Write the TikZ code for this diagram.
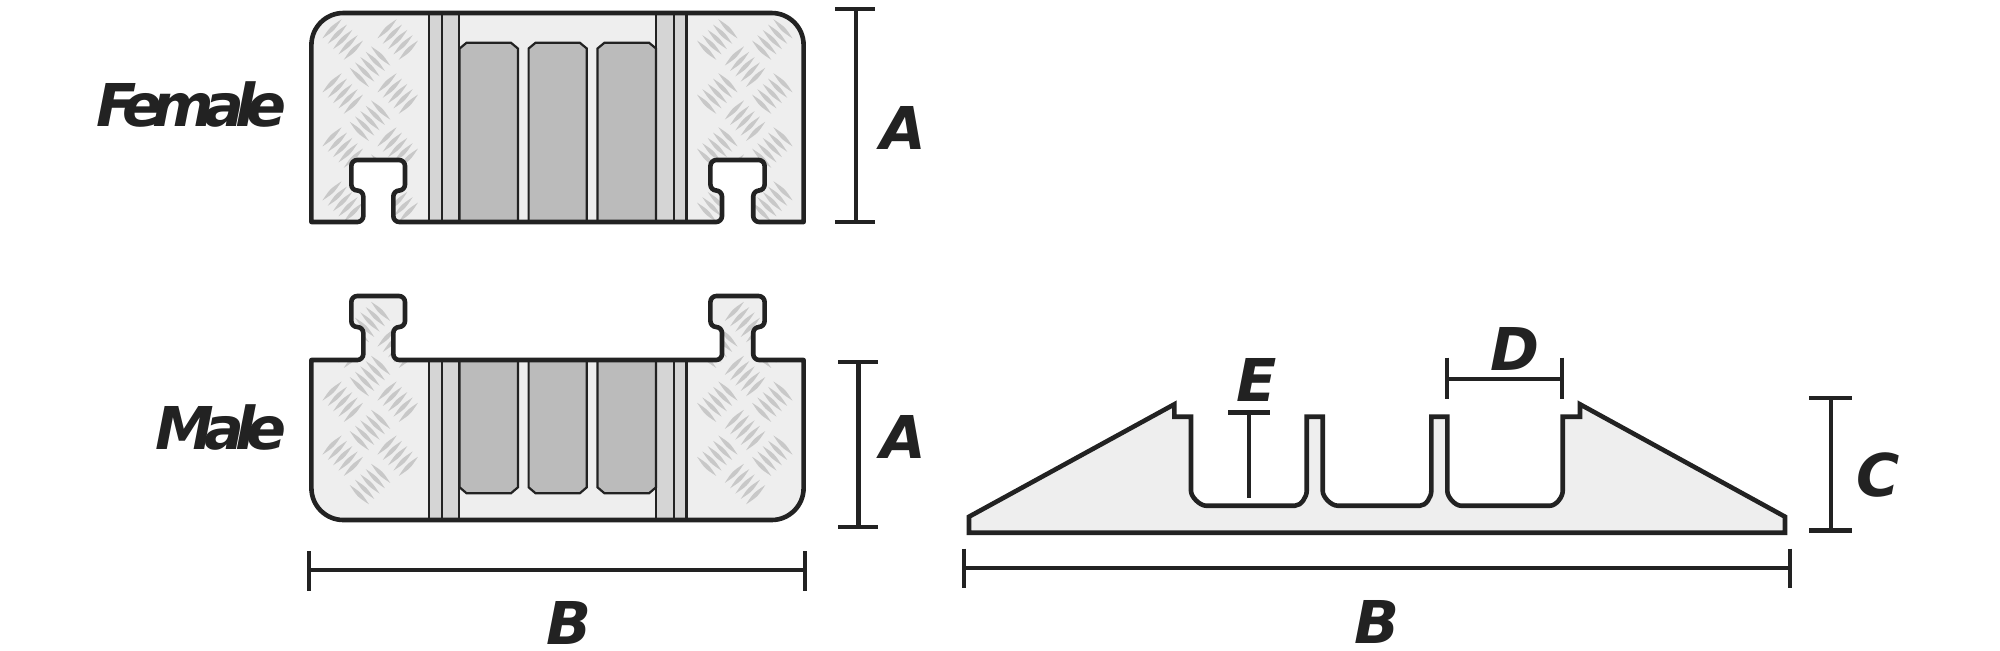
\documentclass[tikz,border=0pt]{standalone}
\usepackage{fontspec}
\setmainfont{DejaVu Sans}
\definecolor{ink}{HTML}{222222}
\definecolor{bodyfill}{HTML}{EEEEEE}
\definecolor{barfill}{HTML}{D5D5D5}
\definecolor{chanfill}{HTML}{BBBBBB}
\definecolor{leaffill}{HTML}{C8C8C8}
\tikzset{
  outline/.style={draw=ink,line width=2.3pt,line join=round},
  thinline/.style={draw=ink,line width=1.1pt},
  dimline/.style={draw=ink,line width=2.2pt},
  bigletter/.style={inner sep=0pt,text=ink,font=\bfseries\itshape\fontsize{29.5}{29.5}\selectfont},
  wordlabel/.style={inner sep=0pt,text=ink,anchor=base east,font=\bfseries\itshape\fontsize{29.5}{29.5}\selectfont\addfontfeature{LetterSpace=-16}},
}
% one diamond-plate group: centre x, centre y, sign of slant
\newcommand\leafgroup[3]{%
  \foreach \i in {-2,...,2}{%
    \pgfmathsetmacro\cx{#1+5.33*\i*#3}%
    \pgfmathsetmacro\cy{#2+5.33*\i}%
    \pgfmathsetmacro\ax{\cx-9.6}%
    \pgfmathsetmacro\ay{\cy+9.6*#3}%
    \pgfmathsetmacro\bx{\cx+9.6}%
    \pgfmathsetmacro\by{\cy-9.6*#3}%
    \pgfmathsetmacro\px{\cx+2*#3}%
    \pgfmathsetmacro\py{\cy+2}%
    \pgfmathsetmacro\qx{\cx-2*#3}%
    \pgfmathsetmacro\qy{\cy-2}%
    \fill[leaffill] (\ax,\ay) .. controls (\px,\py) .. (\bx,\by) .. controls (\qx,\qy) .. cycle;
  }%
}
\newcommand\leafpair[3]{%
  \pgfmathsetmacro\mirx{1115-#1}\pgfmathsetmacro\mirs{-1*#3}%
  \leafgroup{#1}{#2}{#3}\leafgroup{\mirx}{#2}{\mirs}}
\def\femalepath{(311.4,222) [rounded corners=16pt] -- (311.4,13) -- (803.6,13) [sharp corners] -- (803.6,222)
  [rounded corners=3pt] -- (753.2,222) -- (753.2,190.5) -- (764.6,190.5) -- (764.6,160) -- (710.4,160) -- (710.4,190.5) -- (722,190.5) -- (722,222)
  -- (393.3,222) -- (393.3,190.5) -- (405,190.5) -- (405,160) -- (351.3,160) -- (351.3,190.5) -- (363.3,190.5) -- (363.3,222) [sharp corners] -- cycle}
\def\malepath{(311.4,360) [rounded corners=3pt] -- (363.3,360) -- (363.3,327) -- (351.3,327) -- (351.3,296) -- (405,296) -- (405,327) -- (393.3,327) -- (393.3,360)
  -- (722,360) -- (722,327) -- (710.4,327) -- (710.4,296) -- (764.6,296) -- (764.6,327) -- (753.2,327) -- (753.2,360) [sharp corners] -- (803.6,360)
  [rounded corners=16pt] -- (803.6,520) -- (311.4,520) -- (311.4,440) [sharp corners] -- cycle}
\newcommand\barset[2]{%
  \fill[barfill] (428.6,#1) rectangle (459,#2);
  \fill[barfill] (656,#1) rectangle (686.4,#2);
  \foreach \bax in {428.6,441.8,459,656,673.6,686.4}{\draw[thinline] (\bax,#1) -- (\bax,#2);}%
}
\begin{document}
\begin{tikzpicture}[x=0.5pt,y=-0.5pt]
\useasboundingbox (0,0) rectangle (2000,650);
% Female
\fill[bodyfill] \femalepath;
\begin{scope}
  \clip \femalepath;
  \foreach \yy in {39.5,93.5,147.5,201.5}{\leafpair{342.7}{\yy}{1}\leafpair{397.7}{\yy}{1}}
  \foreach \yy in {66.7,120.7,174.7}{\leafpair{370}{\yy}{-1}}
\end{scope}
\barset{13}{222}
\foreach \lx/\rx in {459.6/517.9,528.6/586.8,597.5/656}{
  \filldraw[thinline,fill=chanfill] (\lx,222) -- (\lx,48.5) -- (\lx+7,42.7) -- (\rx-7,42.7) -- (\rx,48.5) -- (\rx,222);
}
\draw[outline] \femalepath;
% Male
\fill[bodyfill] \malepath;
\begin{scope}
  \clip \malepath;
  \foreach \yy in {347.7,401.7,455.7}{\leafpair{342.7}{\yy}{1}\leafpair{397.7}{\yy}{1}}
  \foreach \yy in {322,376,430,484}{\leafpair{370}{\yy}{-1}}
\end{scope}
\barset{360}{520}
\foreach \lx/\rx in {459.6/517.9,528.6/586.8,597.5/656}{
  \filldraw[thinline,fill=chanfill] (\lx,360) -- (\lx,487.3) -- (\lx+7,493.3) -- (\rx-7,493.3) -- (\rx,487.3) -- (\rx,360);
}
\draw[outline] \malepath;
% Ramp
\filldraw[outline,fill=bodyfill,line join=miter]
  (969,532.7) -- (969,516.7) -- (1174.3,404.3) -- (1174.3,416.7) -- (1191,416.7) -- (1191,491)
  .. controls (1191,497) and (1200,505.7) .. (1206,505.7) -- (1295,505.7)
  .. controls (1301,505.7) and (1306.7,497) .. (1306.7,491) -- (1306.7,416.7) -- (1322.7,416.7) -- (1322.7,491)
  .. controls (1322.7,497) and (1331,505.7) .. (1337.7,505.7) -- (1420,505.7)
  .. controls (1426,505.7) and (1431.3,497) .. (1431.3,491) -- (1431.3,416.7) -- (1447.3,416.7) -- (1447.3,491)
  .. controls (1447.3,497) and (1455,505.7) .. (1461,505.7) -- (1550,505.7)
  .. controls (1556,505.7) and (1562.7,497) .. (1562.7,491) -- (1562.7,416.7) -- (1580,416.7) -- (1580,404.3)
  -- (1785,516.7) -- (1785,532.7) -- cycle;
% Dimension lines
\draw[dimline] (835,9) -- (875,9) (856,9) -- (856,222) (835,222) -- (875,222);
\draw[dimline] (838,362) -- (877.5,362) (858.4,362) -- (858.4,527) (838,527) -- (877.5,527);
\draw[dimline] (308.7,551) -- (308.7,590.5) (308.7,570) -- (805,570) (805,551) -- (805,590.5);
\draw[dimline] (964,548.5) -- (964,588) (964,568) -- (1790,568) (1790,548.5) -- (1790,588);
\draw[dimline] (1228,412.3) -- (1270,412.3) (1249,412.3) -- (1249,497.7);
\draw[dimline] (1446.7,357.7) -- (1446.7,399.3) (1446.7,379) -- (1561.7,379) (1561.7,357.7) -- (1561.7,399.3);
\draw[dimline] (1809,398) -- (1851.7,398) (1830.7,398) -- (1830.7,530.3) (1809,530.3) -- (1851.7,530.3);
% Labels
\node[wordlabel] (female) at (286.5,126) {Female};
\node[wordlabel] (male) at (286.5,449) {Male};
\node[bigletter,anchor=base] (a1) at (903,149.5) {A};
\node[bigletter,anchor=base] (a2) at (903,458) {A};
\node[bigletter,anchor=base] (b1) at (568.5,644.5) {B};
\node[bigletter,anchor=base] (b2) at (1377,643) {B};
\node[bigletter,anchor=base] (c) at (1878.5,496) {C};
\node[bigletter,anchor=base] (d) at (1515,370.7) {D};
\node[bigletter,anchor=base] (e) at (1256.5,401.7) {E};
\end{tikzpicture}
\end{document}
